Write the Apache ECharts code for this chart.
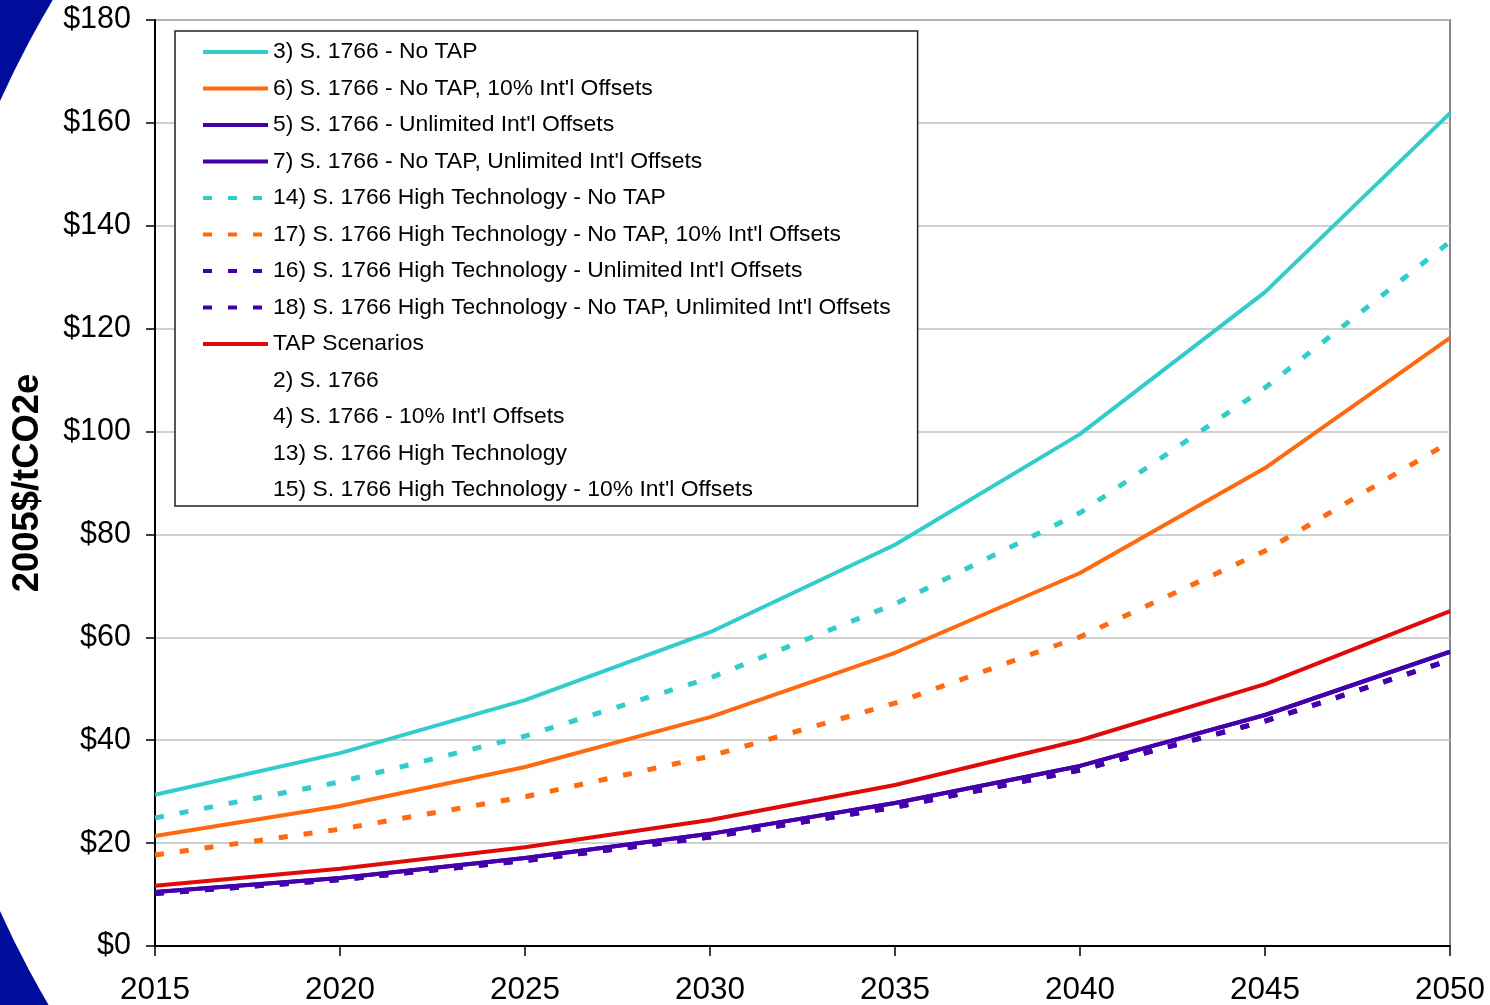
<!DOCTYPE html>
<html>
<head>
<meta charset="utf-8">
<script src="https://cdn.jsdelivr.net/npm/echarts@6/dist/echarts.min.js"></script>
<style>
    html, body { margin: 0; padding: 0; background: #fff; }
    #main { width: 1490px; height: 1005px; }
</style>
</head>
<body>
<div id="main"></div>
<script>
    // years on the x axis
    var years = ['2015', '2020', '2025', '2030', '2035', '2040', '2045', '2050'];

    // allowance prices, 2005$/tCO2e
    var noTap          = [29.4, 37.5, 47.8, 61.0, 78.0, 99.5, 127.1, 161.9];
    var noTap10        = [21.4, 27.2, 34.8, 44.5, 57.0, 72.5, 92.9, 118.2];
    var unlimited      = [10.5, 13.2, 17.1, 21.8, 27.8, 35.0, 44.9, 57.2];
    var noTapUnlimited = [10.5, 13.2, 17.1, 21.8, 27.8, 35.0, 44.9, 57.2];
    var hiNoTap        = [24.9, 31.9, 40.8, 52.1, 66.5, 84.2, 108.5, 136.9];
    var hiNoTap10      = [17.7, 22.7, 29.0, 36.9, 47.2, 60.1, 76.8, 98.0];
    var hiUnlimited    = [10.2, 12.9, 16.6, 21.2, 27.0, 34.2, 43.7, 55.6];
    var hiNoTapUnlim   = [10.2, 12.9, 16.6, 21.2, 27.0, 34.2, 43.7, 55.6];
    var tapScenarios   = [11.7, 15.0, 19.2, 24.5, 31.3, 40.0, 50.9, 65.1];

    var yTicks = [0, 20, 40, 60, 80, 100, 120, 140, 160, 180];

    var CYAN = '#33cccc', ORANGE = '#ff6a10', PURPLE = '#4400aa', RED = '#e00a0a';
    var FONT = "'Liberation Sans', Arial, sans-serif";
    var DASH = [9, 16];

    function line(name, data, color, dashed) {
        return {
            name: name,
            type: 'line',
            data: data,
            symbol: 'none',
            showSymbol: false,
            smooth: false,
            silent: true,
            lineStyle: {
                color: color,
                width: dashed ? 5 : 4,
                type: dashed ? DASH : 'solid',
                cap: 'butt'
            },
            itemStyle: { color: color }
        };
    }

    var series = [
        line("3) S. 1766 - No TAP", noTap, CYAN, false),
        line("6) S. 1766 - No TAP, 10% Int'l Offsets", noTap10, ORANGE, false),
        line("5) S. 1766 - Unlimited Int'l Offsets", unlimited, PURPLE, false),
        line("7) S. 1766 - No TAP, Unlimited Int'l Offsets", noTapUnlimited, PURPLE, false),
        line("14) S. 1766 High Technology - No TAP", hiNoTap, CYAN, true),
        line("17) S. 1766 High Technology - No TAP, 10% Int'l Offsets", hiNoTap10, ORANGE, true),
        line("16) S. 1766 High Technology - Unlimited Int'l Offsets", hiUnlimited, PURPLE, true),
        line("18) S. 1766 High Technology - No TAP, Unlimited Int'l Offsets", hiNoTapUnlim, PURPLE, true),
        line("TAP Scenarios", tapScenarios, RED, false),
        line("2) S. 1766", [], RED, false),
        line("4) S. 1766 - 10% Int'l Offsets", [], RED, false),
        line("13) S. 1766 High Technology", [], RED, false),
        line("15) S. 1766 High Technology - 10% Int'l Offsets", [], RED, false)
    ];

    // the last four rows have no line sample in the legend
    var legendData = series.map(function (s, i) {
        return i >= 9 ? { name: s.name, icon: 'none' } : { name: s.name };
    });

    var chart = echarts.init(document.getElementById('main'));

    var option = {
        animation: false,
        backgroundColor: '#fff',
        graphic: {
            elements: [
                { type: 'rect', z: -10, silent: true,
                  shape: { x: 0, y: 0, width: 1490, height: 1005 },
                  style: { fill: '#000c9a' } },
                { type: 'circle', z: -9, silent: true,
                  shape: { cx: 899, cy: 506, r: 986 },
                  style: { fill: '#ffffff' } }
            ]
        },
        grid: {
            left: 155, right: 40, top: 20, bottom: 59,
            outerBoundsMode: 'none',
            containLabel: false,
            show: true,
            backgroundColor: 'transparent',
            borderColor: '#888',
            borderWidth: 2
        },
        legend: {
            orient: 'vertical',
            left: 175,
            top: 31,
            padding: [9, 27, 4, 26],
            itemWidth: 65,
            itemHeight: 24,
            itemGap: 12.5,
            selectedMode: false,
            backgroundColor: '#fff',
            borderColor: '#222',
            borderWidth: 1.5,
            itemStyle: { opacity: 0 },
            lineStyle: { width: 4 },
            textStyle: { fontFamily: FONT, fontSize: 22.9, color: '#000', lineHeight: 24 },
            data: legendData
        },
        xAxis: {
            type: 'category',
            data: years,
            boundaryGap: false,
            axisLine: { show: true, lineStyle: { color: '#000', width: 2 } },
            axisTick: { show: true, inside: false, length: 10, lineStyle: { color: '#000', width: 1.5 } },
            axisLabel: { fontFamily: FONT, fontSize: 31.5, color: '#000', margin: 28 },
            splitLine: { show: false }
        },
        yAxis: {
            type: 'value',
            min: yTicks[0],
            max: yTicks[yTicks.length - 1],
            interval: 20,
            name: '2005$/tCO2e',
            nameLocation: 'middle',
            nameRotate: 90,
            nameGap: 109,
            nameTextStyle: { fontFamily: FONT, fontSize: 36.4, fontWeight: 'bold', color: '#000' },
            axisLine: { show: true, lineStyle: { color: '#000', width: 2 } },
            axisTick: { show: true, inside: false, length: 9, lineStyle: { color: '#000', width: 1.5 } },
            axisLabel: {
                fontFamily: FONT, fontSize: 30.5, color: '#000', margin: 24,
                formatter: function (v) { return '$' + v; }
            },
            splitLine: { show: true, lineStyle: { color: '#c0c0c0', width: 1.5 } }
        },
        series: series
    };

    chart.setOption(option);
</script>
</body>
</html>
